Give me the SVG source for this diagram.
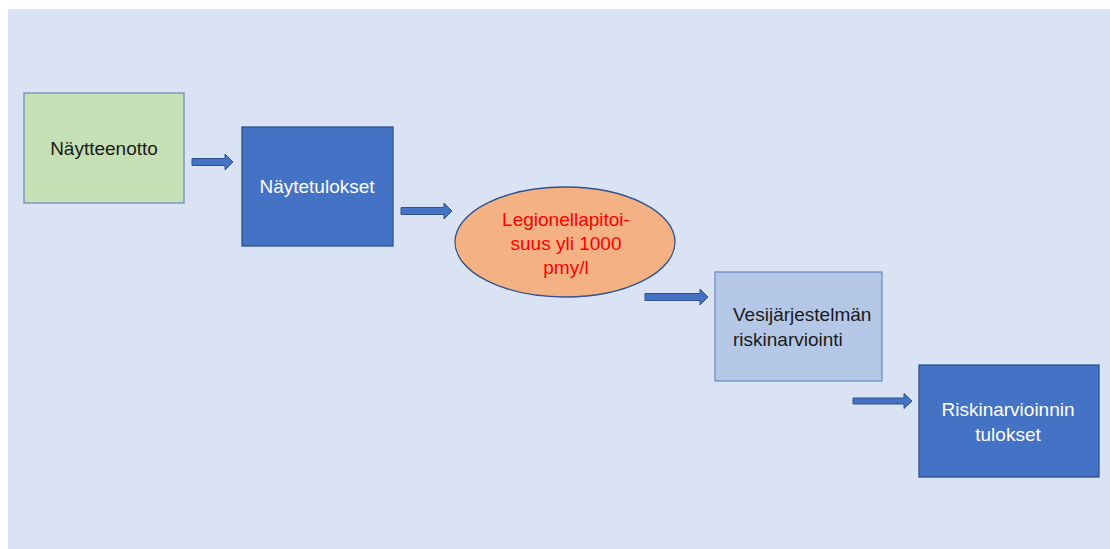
<svg xmlns="http://www.w3.org/2000/svg" width="1110" height="549" viewBox="0 0 1110 549">
<style>
text{font-family:"Liberation Sans",Arial,sans-serif;font-size:19px}
.dark{fill:#4472C4;stroke:#2F528F;stroke-width:1.3}
.wt{fill:#FFFFFF;text-anchor:middle}
.bk{fill:#1A1A1A}
.arr{fill:#4472C4;stroke:#2F528F;stroke-width:1}
</style>
<rect x="0" y="0" width="1110" height="549" fill="#FFFFFF"/>
<rect x="8" y="9" width="1102" height="540" fill="#DAE3F3"/>
<g id="connectors">
<path class="arr" d="M192,158.5 H225 V154 L233,162 L225,170 V165.5 H192 Z"/>
<path class="arr" d="M401,207.5 H444 V203 L452,211 L444,219 V214.5 H401 Z"/>
<path class="arr" d="M645,293.5 H700 V289 L708,297 L700,305 V300.5 H645 Z"/>
<path class="arr" d="M853,398 H904 V393.5 L912,401 L904,408.5 V404 H853 Z"/>
</g>
<g id="naytteenotto">
<rect x="24" y="93" width="160" height="110" fill="#C5E0B4" stroke="#7F97BF" stroke-width="1.5"/>
<text class="bk" x="104" y="155" text-anchor="middle">Näytteenotto</text>
</g>
<g id="naytetulokset">
<rect class="dark" x="242" y="127" width="151" height="119"/>
<text class="wt" x="317" y="193">Näytetulokset</text>
</g>
<g id="legionella">
<ellipse cx="565" cy="242" rx="110" ry="55" fill="#F4B183" stroke="#2F528F" stroke-width="1.3"/>
<text x="566" y="226" fill="#FF0000" text-anchor="middle">Legionellapitoi-</text>
<text x="566" y="250" fill="#FF0000" text-anchor="middle">suus yli 1000</text>
<text x="566" y="274" fill="#FF0000" text-anchor="middle">pmy/l</text>
</g>
<g id="vesijarjestelma">
<rect x="715" y="272" width="167" height="109" fill="#B4C7E7" stroke="#6F8FC6" stroke-width="1.3"/>
<text class="bk" x="733" y="321">Vesijärjestelmän</text>
<text class="bk" x="733" y="346">riskinarviointi</text>
</g>
<g id="riskinarvioinnin-tulokset">
<rect class="dark" x="919" y="365" width="180" height="112"/>
<text class="wt" x="1008" y="416">Riskinarvioinnin</text>
<text class="wt" x="1008" y="441">tulokset</text>
</g>
</svg>
